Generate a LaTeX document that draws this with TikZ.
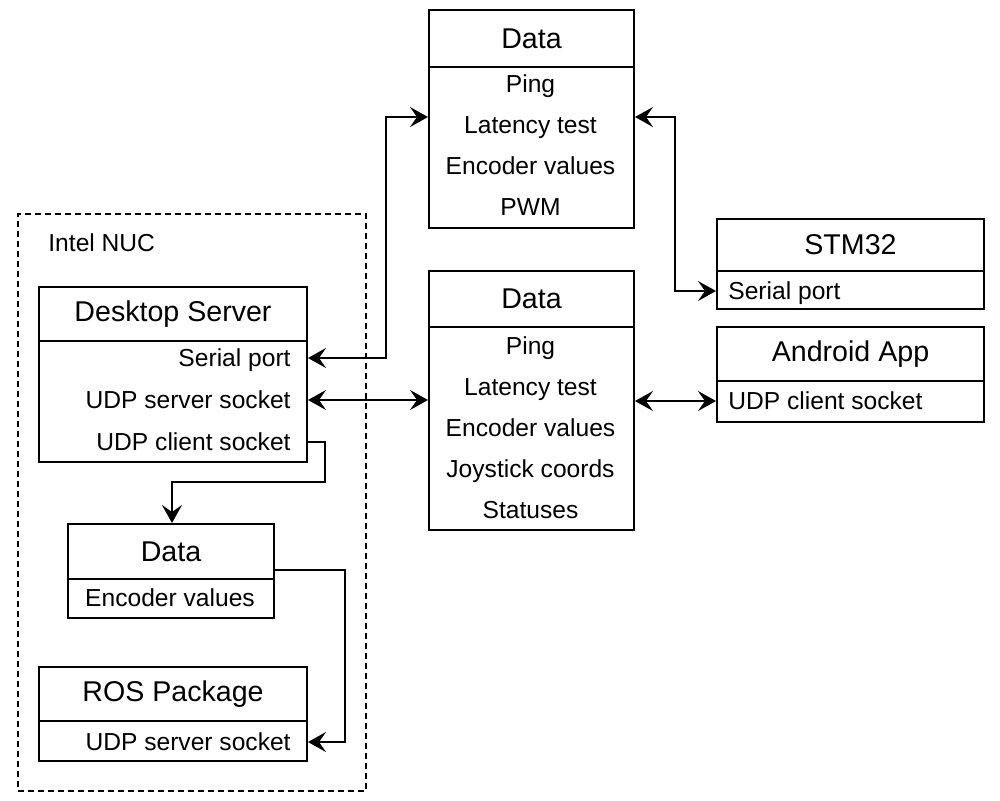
\documentclass[tikz,border=0pt]{standalone}
\usepackage{fontspec}
\setmainfont{Liberation Sans}
\usetikzlibrary{arrows.meta}
\begin{document}
\begin{tikzpicture}[x=0.5pt,y=-0.5pt,
  box/.style={draw,line width=1pt,inner sep=0pt,anchor=north west},
  hdr/.style={font=\fontsize{14.3}{16}\selectfont},
  itm/.style={font=\fontsize{12.3}{14}\selectfont,inner sep=0pt,anchor=mid},
  itml/.style={itm,anchor=mid west},
  itmr/.style={itm,anchor=mid east},
  conn/.style={line width=1pt,-{Stealth[length=9pt,width=10pt,inset=3.5pt]}},
  biconn/.style={line width=1pt,{Stealth[length=9pt,width=10pt,inset=3.5pt]}-{Stealth[length=9pt,width=10pt,inset=3.5pt]}},
  nucbox/.style={draw,line width=1pt,dash pattern=on 3pt off 2pt,inner sep=0pt,anchor=north west}]
\useasboundingbox (0,0) rectangle (1000,800);

% Intel NUC container
\node[nucbox,minimum width=174pt,minimum height=288.5pt] (nuc) at (17,213) {};
\node[itml] (nuclbl) at (48,246) {Intel NUC};

% top Data
\node[box,hdr,minimum width=102.5pt,minimum height=28.5pt] (d1h) at (428,9) {Data};
\node[box,minimum width=102.5pt,minimum height=80.5pt] (d1b) at (428,66) {};
\node[itm] (d1a) at (530.5,87) {Ping};
\node[itm] (d1c) at (530.5,128) {Latency test};
\node[itm] (d1d) at (530.5,169) {Encoder values};
\node[itm] (d1e) at (530.5,210) {PWM};

% STM32
\node[box,hdr,minimum width=133.5pt,minimum height=26pt] (sth) at (716,218) {STM32};
\node[box,minimum width=133.5pt,minimum height=19pt] (stb) at (716,270) {};
\node[itml] (sts) at (728,294) {Serial port};

% middle Data
\node[box,hdr,minimum width=102.5pt,minimum height=28pt] (d2h) at (428,270) {Data};
\node[box,minimum width=102.5pt,minimum height=101.5pt] (d2b) at (428,326) {};
\node[itm] (d2a) at (530.5,349) {Ping};
\node[itm] (d2c) at (530.5,390) {Latency test};
\node[itm] (d2d) at (530.5,431) {Encoder values};
\node[itm] (d2e) at (530.5,472) {Joystick coords};
\node[itm] (d2f) at (530.5,513) {Statuses};

% Android App
\node[box,hdr,minimum width=133.5pt,minimum height=27pt] (anh) at (716,326) {Android App};
\node[box,minimum width=133.5pt,minimum height=20.5pt] (anb) at (716,380) {};
\node[itml] (anu) at (728,404) {UDP client socket};

% Desktop Server
\node[box,hdr,minimum width=134pt,minimum height=27pt] (dsh) at (38,286) {Desktop Server};
\node[box,minimum width=134pt,minimum height=60.5pt] (dsb) at (38,340) {};
\node[itmr] (dss) at (291,361) {Serial port};
\node[itmr] (dsu) at (291,403) {UDP server socket};
\node[itmr] (dsc) at (291,445) {UDP client socket};

% small Data
\node[box,hdr,minimum width=103pt,minimum height=27.5pt] (d3h) at (67,523) {Data};
\node[box,minimum width=103pt,minimum height=19.5pt] (d3b) at (67,578) {};
\node[itm] (d3a) at (170,601) {Encoder values};

% ROS Package
\node[box,hdr,minimum width=134pt,minimum height=27pt] (rosh) at (38,666) {ROS Package};
\node[box,minimum width=134pt,minimum height=20pt] (rosb) at (38,720) {};
\node[itmr] (rosu) at (291,745) {UDP server socket};

% connectors
\draw[biconn] (dsb.east |- 0,358) -- (386,358) -- (386,117) -- (d1b.west |- 0,117);
\draw[biconn] (dsb.east |- 0,400) -- (d2b.west |- 0,400);
\draw[biconn] (d1b.east |- 0,117) -- (675,117) -- (675,291) -- (stb.west |- 0,291);
\draw[biconn] (d2b.east |- 0,401) -- (anb.west |- 0,401);
\draw[conn] (dsb.east |- 0,442) -- (325,442) -- (325,482) -- (172,482) -- (d3h.north -| 172,0);
\draw[conn] (d3h.east |- 0,570) -- (345,570) -- (345,742) -- (rosb.east |- 0,742);
\end{tikzpicture}
\end{document}
